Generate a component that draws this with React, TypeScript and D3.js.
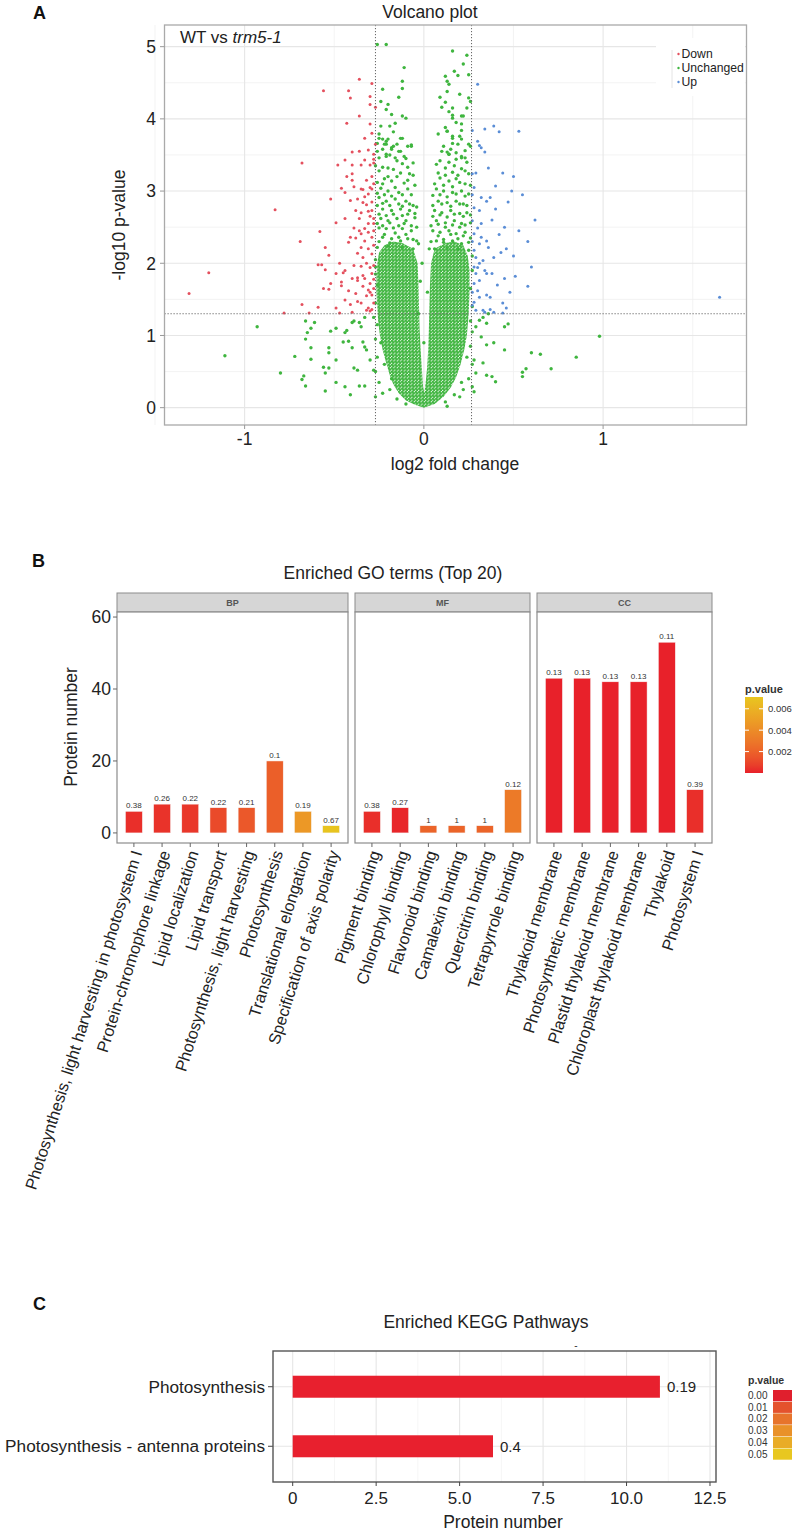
import React from 'react';
import * as d3 from 'd3';

const FONT = '"Liberation Sans", Arial, Helvetica, sans-serif';

// ---------- A: volcano plot (log2 fold change, -log10 p) ----------
const downPts: [number, number][] = [
  [-0.56, 4.39], [-0.42, 4.39], [-0.41, 4.29], [-0.36, 4.55], [-0.29, 4.49], [-0.30, 4.31], [-0.30, 4.20], [-0.27, 4.16],
  [-0.36, 4.04], [-0.43, 3.94], [-0.30, 3.93], [-0.40, 3.54], [-0.31, 3.57], [-0.28, 3.51], [-0.44, 3.43], [-0.33, 3.43],
  [-0.68, 3.39], [-0.83, 2.74], [-1.20, 1.87], [-0.48, 3.36], [-0.40, 3.36], [-0.40, 3.24], [-0.40, 3.15], [-0.35, 3.36],
  [-0.30, 3.36], [-0.28, 3.39], [-0.28, 3.44], [-0.27, 3.65], [-0.46, 3.04], [-0.44, 2.98], [-0.52, 2.89], [-0.41, 2.87],
  [-0.35, 3.03], [-0.34, 3.02], [-0.31, 2.96], [-0.29, 3.03], [-0.37, 2.89], [-0.34, 2.84], [-0.32, 2.81], [-0.29, 2.73],
  [-0.38, 2.73], [-0.35, 2.70], [-0.44, 2.62], [-0.49, 2.56], [-0.69, 2.30], [-0.58, 2.44], [-0.55, 2.22], [-0.53, 2.11],
  [-0.59, 1.98], [-0.57, 1.98], [-0.55, 1.91], [-0.47, 2.00], [-0.44, 1.90], [-0.42, 2.29], [-0.41, 2.36], [-0.39, 2.49],
  [-0.36, 2.45], [-0.35, 2.41], [-0.33, 2.48], [-0.31, 2.43], [-0.29, 2.36], [-0.33, 2.31], [-0.35, 2.22], [-0.31, 2.20],
  [-0.29, 2.13], [-0.34, 2.08], [-0.32, 2.00], [-0.30, 1.94], [-0.40, 1.79], [-0.37, 1.80], [-0.34, 1.83], [-0.29, 1.86],
  [-0.52, 1.72], [-0.46, 1.74], [-1.31, 1.58], [-0.78, 1.31], [-0.68, 1.43], [-0.64, 1.31], [-0.59, 1.39], [-0.56, 1.65],
  [-0.53, 1.64], [-0.49, 1.86], [-0.46, 1.69], [-0.45, 1.87], [-0.49, 1.38], [-0.47, 1.31], [-0.44, 1.49], [-0.40, 1.32],
  [-0.41, 1.43], [-0.37, 1.47], [-0.35, 1.45], [-0.35, 1.96], [-0.33, 1.79], [-0.37, 1.76], [-0.31, 1.63], [-0.30, 1.60],
  [-0.28, 1.65], [-0.31, 1.38], [-0.32, 1.35], [-0.30, 1.34], [-0.29, 1.36], [-0.28, 1.97], [-0.29, 1.56], [-0.28, 2.55],
  [-0.28, 2.62], [-0.29, 2.85], [-0.28, 3.10], [-0.29, 3.20], [-0.28, 2.25], [-0.28, 2.45], [-0.30, 2.65], [-0.31, 2.55],
  [-0.30, 3.05], [-0.32, 3.15], [-0.28, 1.45], [-0.28, 1.78], [-0.30, 1.72], [-0.32, 1.55], [-0.34, 1.68], [-0.38, 1.58],
  [-0.42, 1.62], [-0.39, 1.97], [-0.37, 2.14], [-0.38, 2.35], [-0.36, 2.62], [-0.31, 2.72], [-0.33, 2.92], [-0.39, 3.06],
  [-0.43, 3.20], [-0.36, 3.55], [-0.33, 3.73], [-0.29, 3.80],
];

const upPts: [number, number][] = [
  [0.30, 4.48], [0.27, 3.84], [0.34, 3.86], [0.39, 3.90], [0.42, 3.82], [0.53, 3.83], [0.30, 3.69], [0.31, 3.63],
  [0.32, 3.60], [0.34, 3.54], [0.45, 1.79], [0.51, 1.82], [0.58, 1.68], [0.46, 1.38], [0.44, 1.31], [1.65, 1.53],
  [0.36, 3.32], [0.27, 3.24], [0.29, 3.25], [0.40, 3.07], [0.35, 2.86], [0.32, 2.91], [0.37, 2.91], [0.28, 2.77],
  [0.31, 2.73], [0.27, 2.59], [0.30, 2.49], [0.32, 2.55], [0.28, 2.41], [0.32, 2.36], [0.35, 2.31], [0.31, 2.27],
  [0.36, 2.22], [0.28, 2.18], [0.29, 2.08], [0.33, 2.04], [0.39, 2.08], [0.30, 1.94], [0.34, 1.90], [0.38, 1.86],
  [0.31, 1.76], [0.28, 1.72], [0.29, 1.86], [0.31, 2.00], [0.35, 1.86], [0.31, 1.53], [0.35, 1.56], [0.37, 1.53],
  [0.28, 1.46], [0.29, 1.35], [0.33, 1.35], [0.34, 1.32], [0.37, 1.36], [0.39, 1.32], [0.27, 1.60], [0.50, 3.20],
  [0.55, 2.95], [0.47, 2.85], [0.62, 2.60], [0.53, 2.45], [0.58, 2.30], [0.45, 2.50], [0.43, 2.15], [0.50, 2.10],
  [0.60, 1.95], [0.48, 1.60], [0.44, 1.45], [0.49, 3.00], [0.44, 3.25], [0.27, 2.95], [0.28, 3.05], [0.27, 2.30],
  [0.28, 1.95], [0.27, 1.42], [0.30, 1.62], [0.41, 1.70], [0.42, 2.40], [0.38, 2.60], [0.40, 2.75], [0.46, 2.20],
];

const unchangedPts: [number, number][] = [
  // left outliers
  [-0.93, 1.12], [-1.11, 0.72], [-0.80, 0.48], [-0.72, 0.71], [-0.66, 1.20], [-0.63, 1.10], [-0.65, 1.04], [-0.66, 0.95],
  [-0.63, 0.83], [-0.63, 0.67], [-0.68, 0.39], [-0.66, 0.30], [-0.67, 0.44], [-0.61, 1.18], [-0.56, 0.56], [-0.53, 0.55],
  [-0.55, 0.48], [-0.55, 0.23], [-0.52, 1.06], [-0.53, 0.83], [-0.53, 0.76], [-0.49, 1.10], [-0.49, 0.66], [-0.49, 0.35],
  [-0.44, 0.29], [-0.45, 0.91], [-0.44, 1.04], [-0.42, 0.92], [-0.41, 0.18], [-0.40, 0.83], [-0.39, 0.55], [-0.37, 0.52],
  [-0.36, 0.30], [-0.33, 0.30], [-0.39, 1.20], [-0.36, 1.18], [-0.35, 1.12], [-0.34, 0.91], [-0.33, 0.84], [-0.32, 0.80],
  [-0.30, 0.66], [-0.28, 0.52], [-0.27, 0.15], [-0.40, 1.18], [-0.43, 1.07], [-0.33, 1.25],
  // right outliers
  [0.45, 1.12], [0.47, 1.16], [0.45, 0.80], [0.60, 0.76], [0.65, 0.74], [0.85, 0.70], [0.98, 0.99], [0.71, 0.54],
  [0.57, 0.54], [0.55, 0.49], [0.55, 0.43], [0.29, 1.12], [0.35, 1.17], [0.32, 0.98], [0.39, 0.90], [0.35, 0.87],
  [0.28, 0.66], [0.33, 0.62], [0.29, 0.48], [0.35, 0.45], [0.38, 0.43], [0.27, 0.29], [0.28, 0.22], [0.40, 0.36],
  [0.31, 1.21], [0.33, 1.25], [0.36, 1.30],
  // top of the arms
  [-0.26, 5.03], [-0.21, 5.03], [0.16, 4.94], [0.24, 4.88], [0.22, 4.76], [0.25, 4.61], [0.17, 4.66], [0.19, 4.60],
  [0.12, 4.59], [0.13, 4.52], [0.14, 4.48], [0.13, 4.38], [0.20, 4.34], [0.25, 4.29], [0.26, 4.24], [0.12, 4.23],
  [0.10, 4.16], [0.16, 4.15], [0.14, 4.10], [0.16, 4.05], [0.21, 4.04], [0.22, 4.04], [0.16, 4.01], [0.12, 3.88],
  [0.13, 3.83], [0.21, 3.93], [0.21, 3.84], [0.16, 3.73], [0.20, 3.76], [0.16, 3.66], [0.19, 3.65], [0.26, 3.62],
  [0.13, 3.54], [0.14, 3.51], [0.21, 3.48], [0.21, 3.46], [-0.11, 4.71], [-0.12, 4.52], [-0.12, 4.42], [-0.12, 4.04],
  [-0.10, 4.01], [-0.12, 3.73], [-0.09, 3.62], [-0.07, 3.64], [-0.23, 4.41], [-0.24, 4.24], [-0.21, 4.13], [-0.18, 4.06],
  [-0.19, 3.90], [-0.16, 3.94], [-0.25, 3.79], [-0.23, 3.72], [-0.26, 3.66], [-0.21, 3.69], [-0.21, 3.65], [-0.18, 3.60],
  [-0.23, 3.58], [-0.17, 3.62], [-0.15, 3.65], [-0.21, 3.48], [-0.25, 3.46], [-0.16, 3.46],
  // left arm, middle
  [-0.25, 3.73], [-0.22, 3.65], [-0.20, 3.72], [-0.13, 3.73], [-0.07, 3.62], [-0.14, 3.55], [-0.18, 3.58], [-0.21, 3.51],
  [-0.11, 3.48], [-0.06, 3.39], [-0.15, 3.42], [-0.20, 3.32], [-0.25, 3.28], [-0.13, 3.25], [-0.08, 3.24], [-0.22, 3.17],
  [-0.18, 3.14], [-0.11, 3.11], [-0.24, 3.04], [-0.20, 3.00], [-0.14, 2.98], [-0.09, 3.03], [-0.25, 2.91], [-0.21, 2.86],
  [-0.16, 2.89], [-0.10, 2.86], [-0.06, 2.80], [-0.23, 2.75], [-0.18, 2.73], [-0.13, 2.75], [-0.08, 2.73], [-0.24, 2.62],
  [-0.20, 2.59], [-0.15, 2.62], [-0.10, 2.59], [-0.05, 2.63], [-0.25, 2.49], [-0.21, 2.48], [-0.17, 2.49], [-0.12, 2.48],
  [-0.07, 2.45], [-0.04, 2.31], [-0.23, 2.36], [-0.18, 2.34], [-0.14, 2.36], [-0.09, 2.34], [-0.26, 2.22], [-0.20, 2.24],
  [-0.12, 2.22], [-0.06, 2.20],
  [-0.25, 2.30], [-0.22, 2.40], [-0.19, 2.28], [-0.16, 2.42], [-0.13, 2.31], [-0.10, 2.40], [-0.06, 2.33], [-0.03, 2.27],
  [-0.26, 2.55], [-0.23, 2.52], [-0.19, 2.56], [-0.14, 2.52], [-0.11, 2.55], [-0.07, 2.52], [-0.04, 2.50], [-0.25, 2.68],
  [-0.21, 2.66], [-0.17, 2.68], [-0.12, 2.66], [-0.09, 2.68], [-0.05, 2.69], [-0.26, 2.80], [-0.23, 2.83], [-0.19, 2.80],
  [-0.14, 2.82], [-0.12, 2.79], [-0.08, 2.82], [-0.04, 2.78], [-0.26, 2.97], [-0.22, 2.95], [-0.18, 2.93], [-0.16, 3.05],
  [-0.12, 2.95], [-0.07, 2.95], [-0.05, 3.08], [-0.26, 3.12], [-0.23, 3.10], [-0.20, 3.20], [-0.15, 3.20], [-0.09, 3.15],
  [-0.06, 3.22], [-0.27, 3.35], [-0.23, 3.33], [-0.17, 3.30], [-0.12, 3.38], [-0.09, 3.33], [-0.26, 3.55], [-0.19, 3.50],
  [-0.13, 3.55], [-0.10, 3.45], [-0.24, 3.90], [-0.20, 4.20], [-0.14, 4.30], [-0.17, 3.82],
  // right arm, middle
  [0.08, 3.79], [0.13, 3.83], [0.16, 3.76], [0.21, 3.72], [0.25, 3.65], [0.10, 3.55], [0.14, 3.51], [0.18, 3.53],
  [0.23, 3.46], [0.07, 3.37], [0.12, 3.32], [0.17, 3.35], [0.21, 3.31], [0.25, 3.24], [0.09, 3.18], [0.14, 3.14],
  [0.18, 3.17], [0.23, 3.10], [0.07, 3.03], [0.11, 3.00], [0.16, 2.98], [0.21, 3.00], [0.25, 2.96], [0.08, 2.86],
  [0.13, 2.84], [0.18, 2.86], [0.22, 2.82], [0.06, 2.73], [0.10, 2.70], [0.15, 2.73], [0.20, 2.69], [0.24, 2.70],
  [0.07, 2.59], [0.12, 2.56], [0.17, 2.59], [0.21, 2.55], [0.26, 2.56], [0.05, 2.45], [0.09, 2.43], [0.14, 2.45],
  [0.18, 2.41], [0.23, 2.43], [0.07, 2.31], [0.11, 2.29], [0.16, 2.31], [0.21, 2.27], [0.25, 2.29], [0.06, 2.20],
  [0.13, 2.21], [0.19, 2.19], [0.25, 2.18],
  [0.04, 2.30], [0.08, 2.38], [0.11, 2.33], [0.15, 2.40], [0.19, 2.34], [0.22, 2.38], [0.26, 2.35], [0.04, 2.52],
  [0.08, 2.54], [0.12, 2.50], [0.16, 2.53], [0.20, 2.50], [0.23, 2.53], [0.05, 2.65], [0.09, 2.67], [0.13, 2.64],
  [0.17, 2.68], [0.22, 2.65], [0.26, 2.67], [0.05, 2.80], [0.10, 2.82], [0.15, 2.79], [0.20, 2.82], [0.24, 2.80],
  [0.05, 2.94], [0.09, 2.95], [0.13, 2.92], [0.18, 2.96], [0.23, 2.93], [0.06, 3.10], [0.11, 3.08], [0.16, 3.06],
  [0.20, 3.12], [0.26, 3.08], [0.08, 3.25], [0.12, 3.22], [0.16, 3.26], [0.19, 3.22], [0.23, 3.28], [0.09, 3.42],
  [0.14, 3.40], [0.18, 3.44], [0.24, 3.40], [0.11, 3.62], [0.15, 3.58], [0.23, 3.56], [0.18, 3.95], [0.24, 4.15],
  [0.09, 4.30],
  // fringes of the dense core
  [-0.27, 0.50], [-0.26, 0.70], [-0.27, 0.95], [-0.28, 1.25], [-0.27, 1.45], [-0.26, 1.70], [-0.27, 1.95], [-0.25, 0.35],
  [-0.23, 0.20], [-0.22, 0.60], [-0.24, 0.90], [-0.26, 1.15], [-0.27, 1.85], [-0.27, 2.05], [0.27, 0.60], [0.26, 0.85],
  [0.27, 1.05], [0.27, 1.40], [0.26, 1.65], [0.27, 1.90], [0.27, 2.10], [0.25, 0.40], [0.22, 0.25], [0.20, 0.15],
  [0.24, 0.70], [0.26, 1.20], [-0.15, 0.12], [-0.10, 0.05], [0.12, 0.08], [0.17, 0.18], [-0.19, 0.25], [0.13, 0.02],
  [-0.18, 0.40], [0.21, 0.35], [-0.03, 1.30], [0.02, 1.60], [0.00, 0.90], [-0.01, 2.00], [0.03, 2.20], [-0.02, 1.75],
];

// outline of the dense centre of the cloud
const coreOutline: [number, number][] = [
  [0.0, 0.0], [-0.05, 0.04], [-0.1, 0.1], [-0.14, 0.2], [-0.17, 0.32], [-0.19, 0.45], [-0.21, 0.62], [-0.23, 0.8],
  [-0.245, 1.0], [-0.255, 1.2], [-0.26, 1.4], [-0.265, 1.6], [-0.265, 1.8], [-0.26, 2.0], [-0.25, 2.15], [-0.22, 2.25],
  [-0.17, 2.3], [-0.12, 2.28], [-0.06, 2.2], [-0.035, 2.0], [-0.03, 1.7], [-0.027, 1.4], [-0.024, 1.1], [-0.018, 0.8],
  [-0.01, 0.5], [-0.005, 0.3], [0.003, 0.2], [0.01, 0.35], [0.018, 0.55], [0.024, 0.8], [0.028, 1.1], [0.031, 1.4],
  [0.034, 1.7], [0.04, 2.0], [0.06, 2.2], [0.12, 2.28], [0.17, 2.3], [0.22, 2.25], [0.245, 2.1], [0.255, 1.9],
  [0.255, 1.6], [0.25, 1.3], [0.24, 1.0], [0.225, 0.8], [0.205, 0.6], [0.18, 0.42], [0.15, 0.28], [0.11, 0.15], [0.06, 0.05],
];

const volcanoXTicks = [-1, 0, 1];
const volcanoYTicks = [0, 1, 2, 3, 4, 5];
const fcCut = [-0.27, 0.266];
const pCut = 1.301;
const volcanoLegend = ['Down', 'Unchanged', 'Up'];
const volcanoColors = ['#E4505E', '#3FB53F', '#5A8DD6'];

// ---------- B: enriched GO terms ----------
const bpTerms = [
  'Photosynthesis, light harvesting in photosystem I', 'Protein-chromophore linkage', 'Lipid localization',
  'Lipid transport', 'Photosynthesis, light harvesting', 'Photosynthesis', 'Translational elongation',
  'Specification of axis polarity',
];
const bpCounts = [6, 8, 8, 7, 7, 20, 6, 2];
const bpLabels = ['0.38', '0.26', '0.22', '0.22', '0.21', '0.1', '0.19', '0.67'];
const bpPvals = [0.0003, 0.0004, 0.0005, 0.0011, 0.0016, 0.0019, 0.0046, 0.0070];

const mfTerms = ['Pigment binding', 'Chlorophyll binding', 'Flavonoid binding', 'Camalexin binding', 'Quercitrin binding', 'Tetrapyrrole binding'];
const mfCounts = [6, 7, 2, 2, 2, 12];
const mfLabels = ['0.38', '0.27', '1', '1', '1', '0.12'];
const mfPvals = [0.0003, 0.0001, 0.0021, 0.0021, 0.0021, 0.0031];

const ccTerms = ['Thylakoid membrane', 'Photosynthetic membrane', 'Plastid thylakoid membrane', 'Chloroplast thylakoid membrane', 'Thylakoid', 'Photosystem I'];
const ccCounts = [43, 43, 42, 42, 53, 12];
const ccLabels = ['0.13', '0.13', '0.13', '0.13', '0.11', '0.39'];
const ccPvals = [0.00001, 0.00001, 0.00002, 0.00002, 0.00001, 0.0003];

const goYTicks = [0, 20, 40, 60];
const goLegendTicks = [0.002, 0.004, 0.006];

// ---------- C: enriched KEGG pathways ----------
const keggTerms = ['Photosynthesis', 'Photosynthesis - antenna proteins'];
const keggCounts = [11, 6];
const keggLabels = ['0.19', '0.4'];
const keggXTicks = [0, 2.5, 5, 7.5, 10, 12.5];
const keggLegend = [0.0, 0.01, 0.02, 0.03, 0.04, 0.05];

const gray = '#222';

export default function App() {
  // ---- A scales
  const xA = d3.scaleLinear().domain([-1.447, 1.8]).range([164.5, 746.5]);
  const yA = d3.scaleLinear().domain([-0.24, 5.3]).range([425, 25]);
  const outline = d3.line<[number, number]>().x(d => xA(d[0])).y(d => yA(d[1])).curve(d3.curveLinearClosed);
  const corePath = outline(coreOutline) || '';
  const xMinorA = [-1.5, -0.5, 0.5, 1.5];
  const yMinorA = [0.5, 1.5, 2.5, 3.5, 4.5];

  // ---- B scales
  const yB = d3.scaleLinear().domain([-2.8, 61.4]).range([843, 612]);
  const pColor = d3.scaleLinear<string>().domain([0, 0.0071]).range(['#E8202A', '#E8C61F']).interpolate(d3.interpolateLab);
  const facets = [
    { name: 'BP', terms: bpTerms, counts: bpCounts, labels: bpLabels, p: bpPvals, x0: 117, x1: 348 },
    { name: 'MF', terms: mfTerms, counts: mfCounts, labels: mfLabels, p: mfPvals, x0: 355, x1: 530 },
    { name: 'CC', terms: ccTerms, counts: ccCounts, labels: ccLabels, p: ccPvals, x0: 537, x1: 712 },
  ];
  const legY = d3.scaleLinear().domain([0, 0.0071]).range([773, 697]);
  const gradStops = d3.range(0, 1.0001, 0.1);

  // ---- C scales
  const xC = d3.scaleLinear().domain([-0.59, 12.68]).range([273, 716]);
  const yC = d3.scaleLinear().domain([0.4, 2.6]).range([1351, 1482]);
  const keggColor = d3.scaleLinear<string>().domain([0, 0.05]).range(['#E01F2D', '#E8C720']).interpolate(d3.interpolateLab);
  const keggMinor = [1.25, 3.75, 6.25, 8.75, 11.25];

  return (
    <svg width={800} height={1532} style={{ position: 'absolute', left: 0, top: 0, background: '#fff' }} fontFamily={FONT}>
      <defs>
        <linearGradient id="pgrad" x1="0" y1="1" x2="0" y2="0">
          {gradStops.map(t => (
            <stop key={t} offset={t} stopColor={pColor(t * 0.0071)} />
          ))}
        </linearGradient>
        <pattern id="dots" patternUnits="userSpaceOnUse" width={3.4} height={3.4}>
          <circle cx={0.85} cy={0.85} r={1.58} fill={volcanoColors[1]} />
          <circle cx={2.55} cy={2.55} r={1.58} fill={volcanoColors[1]} />
        </pattern>
        <clipPath id="clipA"><rect x={164.5} y={25} width={582} height={400} /></clipPath>
      </defs>

      {/* ================= A ================= */}
      <text x={33} y={19} fontSize={18} fontWeight="bold" fill="#111">A</text>
      <text x={430} y={18} fontSize={17.5} textAnchor="middle" fill={gray}>Volcano plot</text>
      <rect x={164.5} y={25} width={582} height={400} fill="#fff" />
      {xMinorA.map(v => <line key={'xm' + v} x1={xA(v)} x2={xA(v)} y1={25} y2={425} stroke="#f0f0f0" strokeWidth={0.8} />)}
      {yMinorA.map(v => <line key={'ym' + v} x1={164.5} x2={746.5} y1={yA(v)} y2={yA(v)} stroke="#f0f0f0" strokeWidth={0.8} />)}
      {volcanoXTicks.map(v => <line key={'xg' + v} x1={xA(v)} x2={xA(v)} y1={25} y2={425} stroke="#e6e6e6" strokeWidth={1.1} />)}
      {volcanoYTicks.map(v => <line key={'yg' + v} x1={164.5} x2={746.5} y1={yA(v)} y2={yA(v)} stroke="#e6e6e6" strokeWidth={1.1} />)}
      <g clipPath="url(#clipA)">
        <path d={corePath} fill="url(#dots)" />
        {unchangedPts.map((d, i) => <circle key={'u' + i} cx={xA(d[0])} cy={yA(d[1])} r={1.7} fill={volcanoColors[1]} />)}
        {downPts.map((d, i) => <circle key={'d' + i} cx={xA(d[0])} cy={yA(d[1])} r={1.5} fill={volcanoColors[0]} />)}
        {upPts.map((d, i) => <circle key={'p' + i} cx={xA(d[0])} cy={yA(d[1])} r={1.5} fill={volcanoColors[2]} />)}
      </g>
      {fcCut.map(v => <line key={'fc' + v} x1={xA(v)} x2={xA(v)} y1={25} y2={425} stroke="#666" strokeWidth={1} strokeDasharray="1.2,1.8" />)}
      <line x1={164.5} x2={746.5} y1={yA(pCut)} y2={yA(pCut)} stroke="#666" strokeWidth={1} strokeDasharray="1.2,1.8" />
      {/* legend */}
      <rect x={656} y={38} width={89} height={58} fill="#fff" />
      <line x1={672} x2={672} y1={50} y2={88} stroke="#e4e4e4" />
      {volcanoLegend.map((k, i) => (
        <g key={k}>
          <circle cx={678.5} cy={54 + i * 14} r={1.2} fill={volcanoColors[i]} />
          <text x={681.5} y={54 + i * 14} dy="0.35em" fontSize={12.2} fill={gray}>{k}</text>
        </g>
      ))}
      <text x={180} y={43} fontSize={17} fill={gray}>
        WT vs <tspan fontStyle="italic">trm5-1</tspan>
      </text>
      <rect x={164.5} y={25} width={582} height={400} fill="none" stroke="#aaa" strokeWidth={1.3} />
      {volcanoYTicks.map(v => (
        <g key={'yt' + v}>
          <line x1={160} x2={164.5} y1={yA(v)} y2={yA(v)} stroke="#999" />
          <text x={156} y={yA(v)} dy="0.36em" fontSize={17.5} textAnchor="end" fill={gray}>{v}</text>
        </g>
      ))}
      {volcanoXTicks.map(v => (
        <g key={'xt' + v}>
          <line x1={xA(v)} x2={xA(v)} y1={425} y2={429} stroke="#999" />
          <text x={xA(v)} y={445} fontSize={17.5} textAnchor="middle" fill={gray}>{v === -1 ? '-1' : v}</text>
        </g>
      ))}
      <text x={455} y={470} fontSize={17.5} textAnchor="middle" fill={gray}>log2 fold change</text>
      <text transform={`translate(125,225) rotate(-90)`} fontSize={17.5} textAnchor="middle" fill={gray}>-log10 p-value</text>

      {/* ================= B ================= */}
      <text x={32} y={567} fontSize={18} fontWeight="bold" fill="#111">B</text>
      <text x={393} y={579} fontSize={17.5} textAnchor="middle" fill={gray}>Enriched GO terms (Top 20)</text>
      {facets.map(f => {
        const xb = d3.scaleBand().domain(f.terms).range([f.x0, f.x1]).paddingInner(0.4).paddingOuter(0.3);
        return (
          <g key={f.name}>
            <rect x={f.x0} y={593} width={f.x1 - f.x0} height={19} fill="#d6d6d6" stroke="#8c8c8c" strokeWidth={1} />
            <text x={(f.x0 + f.x1) / 2} y={602.5} dy="0.35em" fontSize={9} fontWeight="bold" fill="#555" textAnchor="middle">{f.name}</text>
            <rect x={f.x0} y={612} width={f.x1 - f.x0} height={231} fill="#fff" stroke="#8c8c8c" strokeWidth={1.2} />
            {f.terms.map((t, i) => {
              const x = xb(t) as number;
              const bw = xb.bandwidth();
              return (
                <g key={t}>
                  <rect x={x} y={yB(f.counts[i])} width={bw} height={yB(0) - yB(f.counts[i])} fill={pColor(f.p[i])} stroke="#f6f6f6" strokeWidth={0.5} />
                  <text x={x + bw / 2} y={yB(f.counts[i]) - 3} fontSize={8} textAnchor="middle" fill="#333">{f.labels[i]}</text>
                  <line x1={x + bw / 2} x2={x + bw / 2} y1={843} y2={847} stroke="#666" />
                  <text transform={`translate(${x + bw / 2 + 3},${851}) rotate(-72.5)`} fontSize={16.4} textAnchor="end" dy="0.35em" fill={gray}>{t}</text>
                </g>
              );
            })}
          </g>
        );
      })}
      {goYTicks.map(v => (
        <g key={'gy' + v}>
          <line x1={113} x2={117} y1={yB(v)} y2={yB(v)} stroke="#666" />
          <text x={111} y={yB(v)} dy="0.36em" fontSize={17.5} textAnchor="end" fill={gray}>{v}</text>
        </g>
      ))}
      <text transform={`translate(77,727) rotate(-90)`} fontSize={17.5} textAnchor="middle" fill={gray}>Protein number</text>
      {/* colour bar */}
      <text x={745} y={693} fontSize={11} fontWeight="bold" fill="#333">p.value</text>
      <rect x={745} y={697} width={18} height={76} fill="url(#pgrad)" />
      {goLegendTicks.map(v => (
        <g key={'lg' + v}>
          <line x1={745} x2={749} y1={legY(v)} y2={legY(v)} stroke="#fff" />
          <line x1={759} x2={763} y1={legY(v)} y2={legY(v)} stroke="#fff" />
          <text x={768} y={legY(v)} dy="0.35em" fontSize={9.5} fill="#333">{v}</text>
        </g>
      ))}

      {/* ================= C ================= */}
      <text x={33} y={1310} fontSize={18} fontWeight="bold" fill="#111">C</text>
      <text x={486} y={1328} fontSize={17.5} textAnchor="middle" fill={gray}>Enriched KEGG Pathways</text>
      <text x={576} y={1349} fontSize={10} textAnchor="middle" fill="#333">-</text>
      <rect x={273} y={1351} width={443} height={131} fill="#fff" />
      {keggMinor.map(v => <line key={'km' + v} x1={xC(v)} x2={xC(v)} y1={1351} y2={1482} stroke="#f3f3f3" strokeWidth={0.8} />)}
      {keggXTicks.map(v => <line key={'kg' + v} x1={xC(v)} x2={xC(v)} y1={1351} y2={1482} stroke="#e6e6e6" strokeWidth={1.1} />)}
      {keggTerms.map((t, i) => <line key={'kh' + t} x1={273} x2={716} y1={yC(i + 1)} y2={yC(i + 1)} stroke="#e6e6e6" strokeWidth={1.1} />)}
      {keggTerms.map((t, i) => (
        <g key={t}>
          <rect x={xC(0)} y={yC(i + 1) - 11} width={xC(keggCounts[i]) - xC(0)} height={22} fill="#E8202E" />
          <text x={xC(keggCounts[i]) + 7} y={yC(i + 1)} dy="0.35em" fontSize={15} fill={gray}>{keggLabels[i]}</text>
          <line x1={268} x2={273} y1={yC(i + 1)} y2={yC(i + 1)} stroke="#444" />
          <text x={265} y={yC(i + 1)} dy="0.35em" fontSize={17.2} textAnchor="end" fill={gray}>{t}</text>
        </g>
      ))}
      <rect x={273} y={1351} width={443} height={131} fill="none" stroke="#555" strokeWidth={1.4} />
      {keggXTicks.map(v => (
        <g key={'kx' + v}>
          <line x1={xC(v)} x2={xC(v)} y1={1482} y2={1486} stroke="#444" />
          <text x={xC(v)} y={1504} fontSize={17} textAnchor="middle" fill={gray}>{v === 0 ? '0' : v.toFixed(1)}</text>
        </g>
      ))}
      <text x={503} y={1528} fontSize={17.5} textAnchor="middle" fill={gray}>Protein number</text>
      <text x={748} y={1384} fontSize={10.5} fontWeight="bold" fill="#333">p.value</text>
      {keggLegend.map((v, i) => (
        <g key={'kl' + v}>
          <rect x={773} y={1390 + i * 11.7} width={19} height={11.2} fill={keggColor(v)} />
          <text x={748} y={1395.5 + i * 11.7} dy="0.35em" fontSize={10} fill="#333">{v.toFixed(2)}</text>
        </g>
      ))}
    </svg>
  );
}
